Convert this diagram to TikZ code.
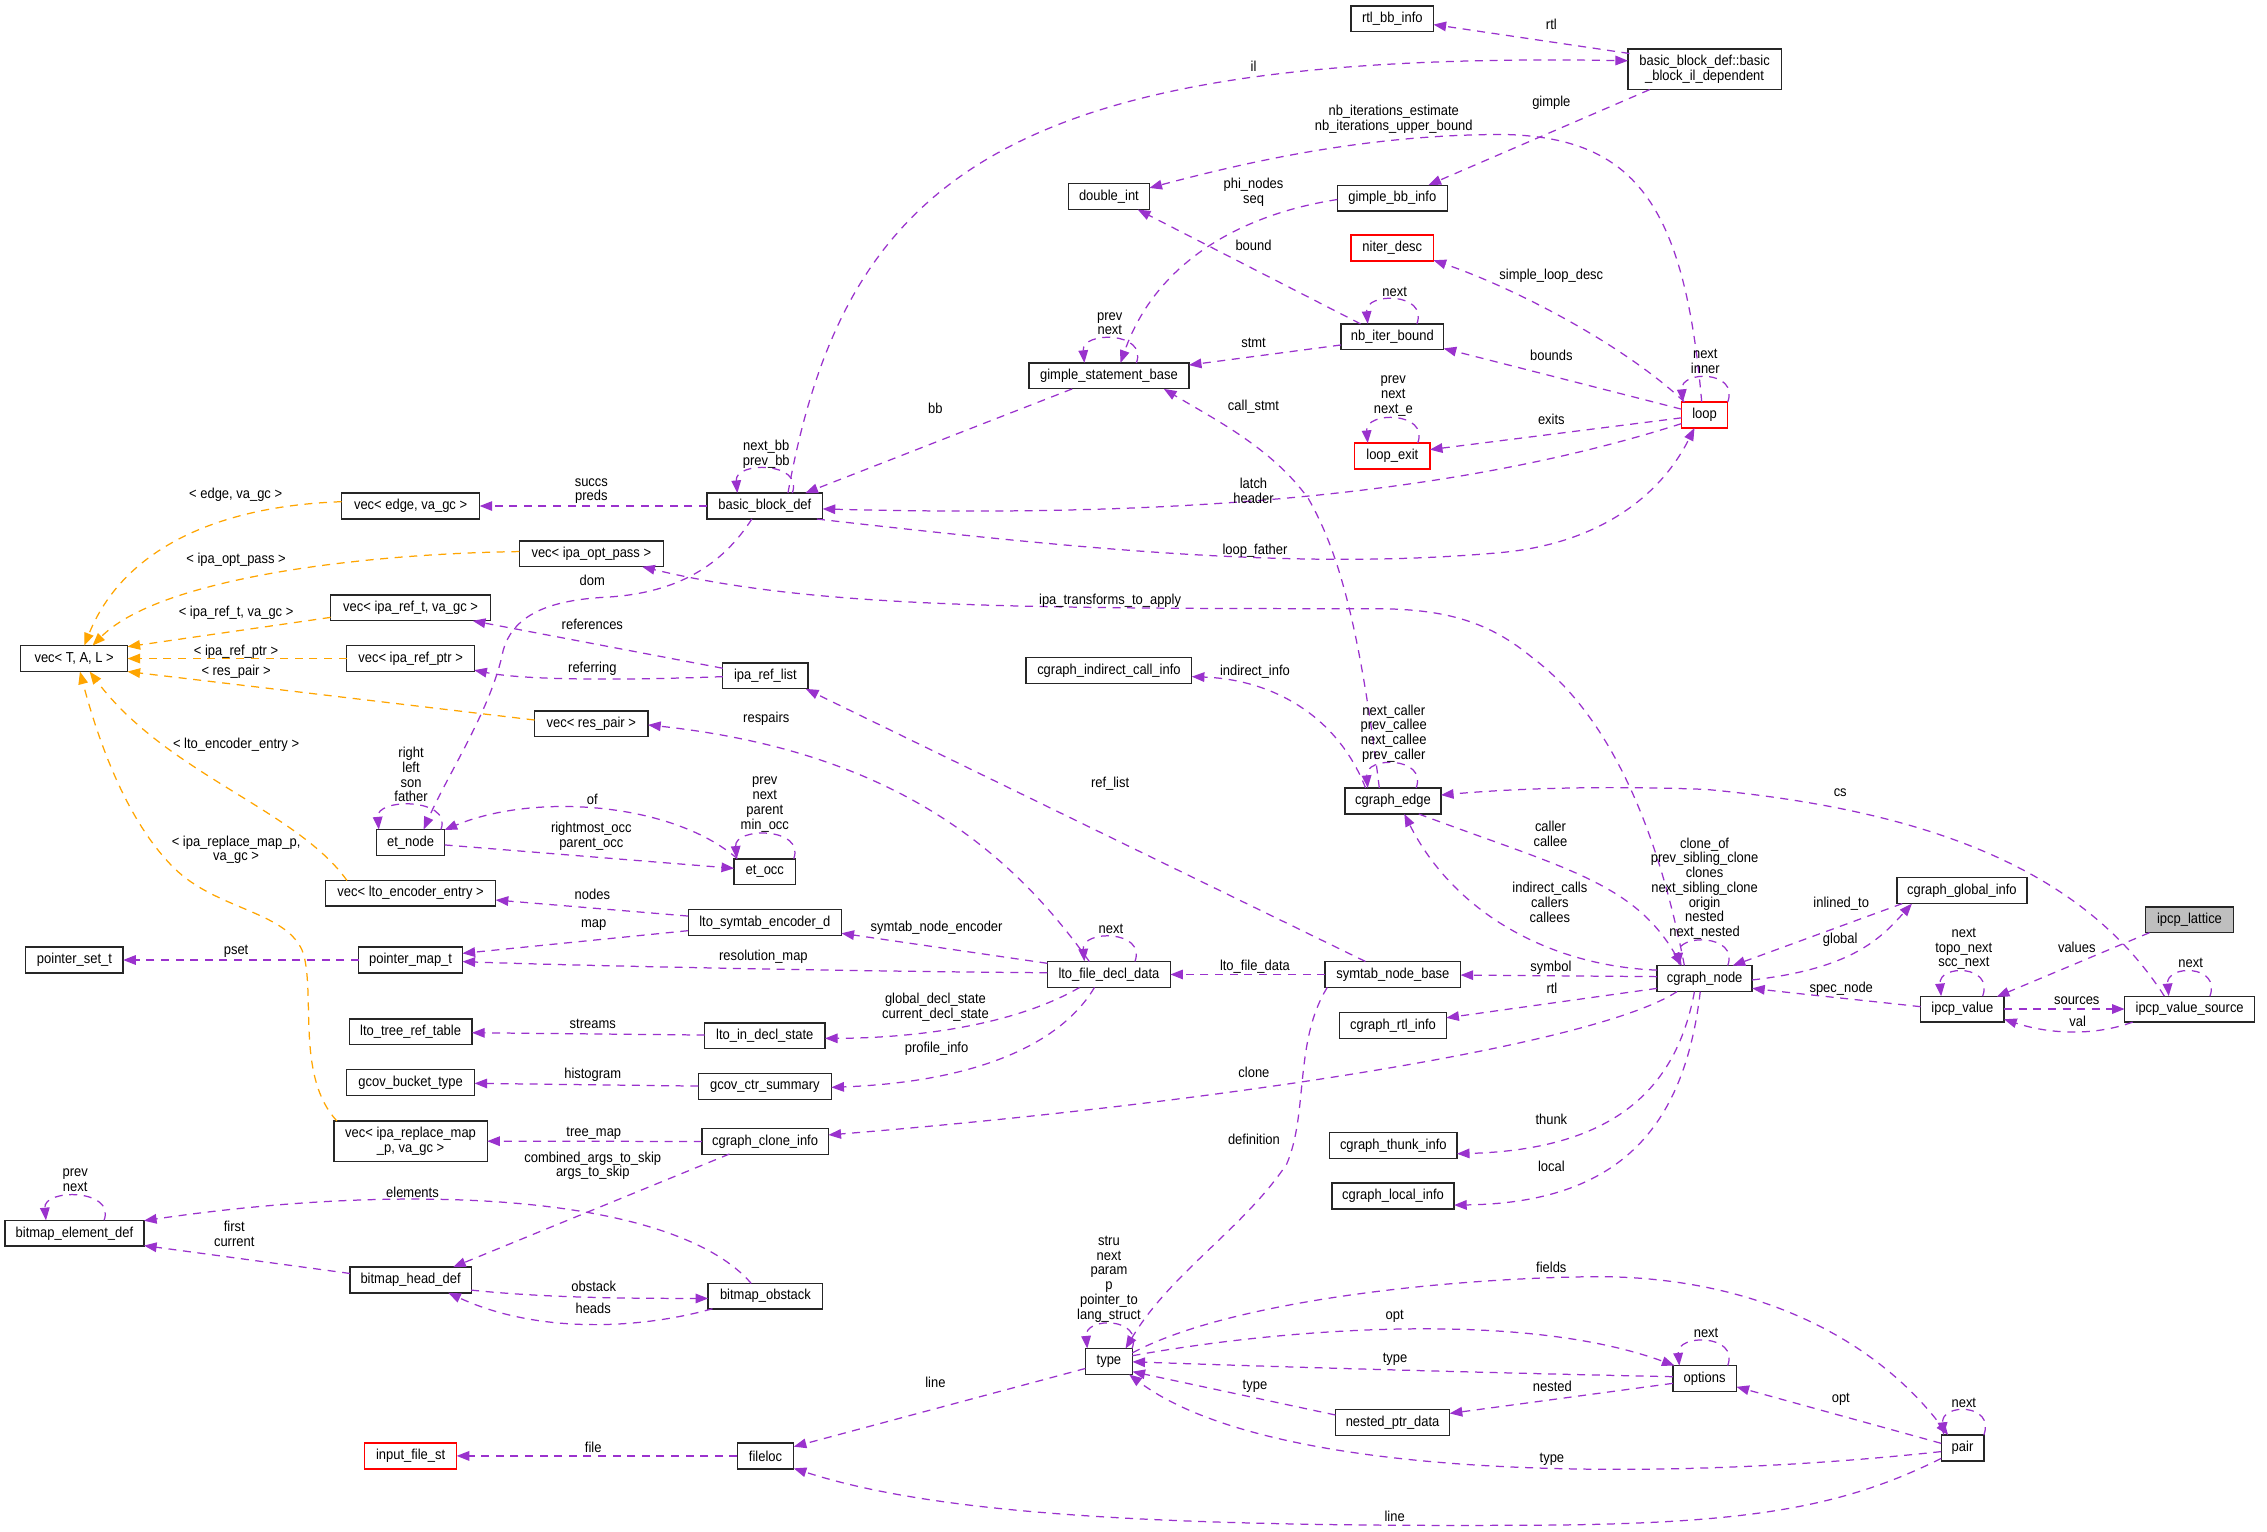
\documentclass[tikz,border=0pt]{standalone}
\usepackage{fontspec}
\setmainfont{Liberation Sans}[FakeStretch=0.9]
\usetikzlibrary{arrows.meta,calc}
\definecolor{edgec}{HTML}{9A32CD}
\definecolor{tmplc}{HTML}{FFA500}
\definecolor{latc}{HTML}{BFBFBF}
\newcommand\selfloop[3]{\draw[rel] ($(#1)+(#2,-9)$) .. controls ($(#1)+(#2+8,-31)$) and ($(#1)+(-#3-2,-31)$) .. ($(#1)+(-#3,-9)$);}
\begin{document}
\begin{tikzpicture}[x=0.7229pt,y=-0.7229pt,
  every node/.style={font=\fontsize{7.2}{7.37}\selectfont},
  cls/.style={draw=black!85, line width=0.7pt, fill=white, minimum height=12.87pt, inner sep=0pt, align=center},
  clsred/.style={cls, draw=red},
  rel/.style={draw=edgec, line width=0.62pt, dash pattern=on 4pt off 3.3pt, -{Triangle[length=6.3pt,width=4.8pt]}},
  tmpl/.style={rel, draw=tmplc},
  lbl/.style={inner sep=0pt, align=center}]
\fill[white] (0,0) rectangle (1568,1059);
\useasboundingbox (0,0) rectangle (1568,1059);

% ---------- nodes ----------
\node[cls, minimum width=41.2pt] (rtlbb) at (963,13) {rtl\_bb\_info};
\node[cls, minimum width=76.6pt, minimum height=20.2pt] (bbil) at (1179,48) {basic\_block\_def::basic\\\_block\_il\_dependent};
\node[cls, minimum width=40.5pt] (dint) at (767,136) {double\_int};
\node[cls, minimum width=54.9pt] (gbbi) at (963,137) {gimple\_bb\_info};
\node[clsred, minimum width=41.2pt] (niter) at (963,171.5) {niter\_desc};
\node[cls, minimum width=51.3pt] (nbib) at (963,233) {nb\_iter\_bound};
\node[cls, minimum width=80pt] (gsb) at (767,260) {gimple\_statement\_base};
\node[clsred, minimum width=23.1pt] (loop) at (1179,287) {loop};
\node[clsred, minimum width=37.6pt] (lexit) at (963,315.4) {loop\_exit};
\node[cls, minimum width=69pt] (vedge) at (284,350) {vec< edge, va\_gc >};
\node[cls, minimum width=57.8pt] (bbd) at (529,350) {basic\_block\_def};
\node[cls, minimum width=72pt] (vopt) at (409,383) {vec< ipa\_opt\_pass >};
\node[cls, minimum width=80pt] (vreft) at (284,420.4) {vec< ipa\_ref\_t, va\_gc >};
\node[cls, minimum width=53.4pt] (vtal) at (51.3,455.5) {vec< T, A, L >};
\node[cls, minimum width=64pt] (vrefp) at (284,455.5) {vec< ipa\_ref\_ptr >};
\node[cls, minimum width=42.7pt] (iprl) at (529.4,467.5) {ipa\_ref\_list};
\node[cls, minimum width=82.8pt] (cici) at (767,463.8) {cgraph\_indirect\_call\_info};
\node[cls, minimum width=56.7pt] (vres) at (409,500.7) {vec< res\_pair >};
\node[cls, minimum width=47.9pt] (cedge) at (963.5,554) {cgraph\_edge};
\node[cls, minimum width=34pt] (etn) at (284,582.7) {et\_node};
\node[cls, minimum width=30.7pt] (eto) at (529,602.9) {et\_occ};
\node[cls, minimum width=85.1pt] (vlto) at (284,617.8) {vec< lto\_encoder\_entry >};
\node[cls, minimum width=65.1pt] (cgi) at (1357,616) {cgraph\_global\_info};
\node[cls, fill=latc, minimum width=43.9pt] (lat) at (1514.4,636.2) {ipcp\_lattice};
\node[cls, minimum width=76.6pt] (lsed) at (529,638) {lto\_symtab\_encoder\_d};
\node[cls, minimum width=48.7pt] (pset) at (51.5,664) {pointer\_set\_t};
\node[cls, minimum width=51.9pt] (pmap) at (284,664) {pointer\_map\_t};
\node[cls, minimum width=61.4pt] (lfdd) at (767,674) {lto\_file\_decl\_data};
\node[cls, minimum width=67.7pt] (snb) at (963.4,674) {symtab\_node\_base};
\node[cls, minimum width=47.5pt] (cgn) at (1179,676.8) {cgraph\_node};
\node[cls, minimum width=41.7pt] (ipv) at (1357.3,698) {ipcp\_value};
\node[cls, minimum width=65.1pt] (ipvs) at (1514.5,698) {ipcp\_value\_source};
\node[cls, minimum width=53.3pt] (crtl) at (963.5,709.2) {cgraph\_rtl\_info};
\node[cls, minimum width=61.4pt] (ltrt) at (284,713.7) {lto\_tree\_ref\_table};
\node[cls, minimum width=60.2pt] (lids) at (529,716.5) {lto\_in\_decl\_state};
\node[cls, minimum width=64pt] (gbt) at (284,748.8) {gcov\_bucket\_type};
\node[cls, minimum width=66.5pt] (gcs) at (529,751.5) {gcov\_ctr\_summary};
\node[cls, minimum width=76.6pt, minimum height=20.2pt] (vrep) at (284,789.3) {vec< ipa\_replace\_map\\\_p, va\_gc >};
\node[cls, minimum width=63.3pt] (cci) at (529.2,789.5) {cgraph\_clone\_info};
\node[cls, minimum width=63.6pt] (cthunk) at (963.7,792.3) {cgraph\_thunk\_info};
\node[cls, minimum width=61.1pt] (clocal) at (963.5,827.2) {cgraph\_local\_info};
\node[cls, minimum width=69.5pt] (bed) at (51.5,853) {bitmap\_element\_def};
\node[cls, minimum width=60.6pt] (bhd) at (284,885.3) {bitmap\_head\_def};
\node[cls, minimum width=57.3pt] (bobs) at (529.4,896.5) {bitmap\_obstack};
\node[cls, minimum width=23.5pt] (type) at (767,941.7) {type};
\node[cls, minimum width=31.8pt] (opts) at (1179,953.5) {options};
\node[cls, minimum width=57.1pt] (npd) at (963.2,983.8) {nested\_ptr\_data};
\node[clsred, minimum width=46pt] (ifs) at (284,1007) {input\_file\_st};
\node[cls, minimum width=28.2pt] (floc) at (529.5,1007) {fileloc};
\node[cls, minimum width=21.3pt] (pair) at (1357.4,1001.5) {pair};

% ---------- edges ----------
\draw[rel] ($(bbd)+(16,-9)$) .. controls (585,120) and (700,35) .. ($(bbil)+(-53,-6)$);
\draw[rel] ($(bbil)+(-52,-11)$) -- ($(rtlbb)+(28.5,4)$);
\draw[rel] ($(bbil)+(-38,14)$) -- ($(gbbi)+(25,-9)$);
\draw[rel] ($(loop)+(-2,-9)$) .. controls (1165,140) and (1130,95) .. (1040,93) .. controls (950,93) and (870,110) .. ($(dint)+(28,-6)$);
\draw[rel] ($(nbib)+(-22,-9)$) -- ($(dint)+(20,9)$);
\draw[rel] ($(gbbi)+(-38,1)$) .. controls (860,148) and (800,180) .. ($(gsb)+(8,-9)$);
\selfloop{gsb}{19}{17}
\selfloop{nbib}{17}{17}
\draw[rel] ($(nbib)+(-35.5,5.6)$) -- ($(gsb)+(55.3,-7.5)$);
\draw[rel] ($(loop)+(-14,-9)$) .. controls (1125,240) and (1050,200) .. ($(niter)+(28.5,8.5)$);
\draw[rel] ($(loop)+(-16,-4)$) -- ($(nbib)+(35.5,8)$);
\selfloop{loop}{16}{15}
\draw[rel] ($(loop)+(-16,2)$) -- ($(lexit)+(26,-4.4)$);
\selfloop{lexit}{17.6}{17}
\draw[rel] ($(loop)+(-16,6)$) .. controls (1000,345) and (800,358) .. ($(bbd)+(40,2)$);
\draw[rel] ($(bbd)+(36,9)$) .. controls (750,380) and (900,395) .. (1040,382) .. controls (1110,375) and (1150,340) .. ($(loop)+(-7,9)$);
\draw[rel] ($(gsb)+(-25.4,9)$) -- ($(bbd)+(28,-9)$);
\selfloop{bbd}{19}{19}
\draw[rel] ($(bbd)+(-40,0)$) -- ($(vedge)+(47.75,0)$);
\draw[rel] ($(cedge)+(-9.5,-9)$) .. controls (940,430) and (925,380) .. (905,345) .. controls (880,310) and (840,290) .. ($(gsb)+(38,9)$);
\draw[rel] ($(bbd)+(-9,9)$) .. controls (500,390) and (470,410) .. (420,413) .. controls (380,415) and (355,425) .. (348,450) .. controls (340,490) and (310,535) .. ($(etn)+(9,-9)$);
\draw[rel] ($(iprl)+(-29.5,-5.3)$) -- ($(vreft)+(43,9)$);
\draw[rel] ($(iprl)+(-29.5,0.5)$) .. controls (420,471) and (360,470) .. ($(vrefp)+(44,8)$);
\draw[tmpl] ($(vedge)+(-47.75,-3)$) .. controls (150,350) and (85,380) .. ($(vtal)+(7,-9)$);
\draw[tmpl] ($(vopt)+(-49.8,-1.5)$) .. controls (250,383) and (110,400) .. ($(vtal)+(12.7,-9)$);
\draw[tmpl] ($(vreft)+(-55.3,6.6)$) -- ($(vtal)+(36.9,-8.2)$);
\draw[tmpl] ($(vrefp)+(-44.25,0)$) -- ($(vtal)+(36.9,0)$);
\draw[tmpl] ($(vres)+(-39.25,-2.7)$) -- ($(vtal)+(36.9,9)$);
\draw[tmpl] ($(vlto)+(-44,-8.8)$) .. controls (205,560) and (115,535) .. ($(vtal)+(10.7,9)$);
\draw[tmpl] ($(vrep)+(-51,-14)$) .. controls (205,745) and (218,690) .. (210,660) .. controls (200,630) and (150,630) .. (120,600) .. controls (90,570) and (70,520) .. ($(vtal)+(4,9)$);
\draw[rel] ($(cgn)+(-14,-9)$) .. controls (1150,590) and (1120,500) .. (1060,455) .. controls (1030,430) and (1000,421) .. (950,421) .. controls (700,421) and (560,420) .. ($(vopt)+(35.2,9)$);
\draw[rel] ($(snb)+(-19,-9)$) -- ($(iprl)+(28,9)$);
\draw[rel] ($(lfdd)+(-13.6,-9)$) .. controls (700,590) and (620,520) .. ($(vres)+(39.25,0.7)$);
\draw[rel] ($(cedge)+(-19,-9)$) .. controls (925,495) and (880,470) .. ($(cici)+(57.3,4.2)$);
\selfloop{cedge}{16}{17.5}
\draw[rel] ($(snb)+(-46.8,0)$) -- ($(lfdd)+(42.5,0)$);
\selfloop{lfdd}{18}{17}
\draw[rel] ($(lfdd)+(-42.5,-7.7)$) -- ($(lsed)+(53,7.5)$);
\draw[rel] ($(lfdd)+(-42.5,-1.2)$) .. controls (600,672) and (400,668) .. ($(pmap)+(35.9,1.1)$);
\draw[rel] ($(lsed)+(-53,5.7)$) -- ($(pmap)+(35.9,-4.6)$);
\draw[rel] ($(lsed)+(-53,-4.4)$) -- ($(vlto)+(58.85,4.7)$);
\draw[rel] ($(pmap)+(-35.9,0)$) -- ($(pset)+(33.7,0)$);
\selfloop{etn}{21}{22}
\draw[rel] ($(eto)+(-19,-9)$) .. controls (465,555) and (370,548) .. ($(etn)+(23.5,-8.7)$);
\draw[rel] ($(etn)+(23.5,1.7)$) -- ($(eto)+(-21.25,-2.3)$);
\selfloop{eto}{20}{19.4}
\draw[rel] ($(lids)+(-41.65,-0.6)$) -- ($(ltrt)+(42.5,0.6)$);
\draw[rel] ($(lfdd)+(-20.3,9)$) .. controls (700,710) and (630,718) .. ($(lids)+(41.65,1.7)$);
\draw[rel] ($(lfdd)+(-10,9)$) .. controls (735,720) and (680,748) .. ($(gcs)+(46,0.6)$);
\draw[rel] ($(gcs)+(-46,-0.3)$) -- ($(gbt)+(44.25,0.5)$);
\draw[rel] ($(cci)+(-43.8,0)$) -- ($(vrep)+(53,0)$);
\draw[rel] ($(cgn)+(-19,9)$) .. controls (1100,725) and (820,765) .. ($(cci)+(43.8,-4.5)$);
\draw[rel] ($(cgn)+(-32.85,-1.3)$) -- ($(snb)+(46.8,0.4)$);
\draw[rel] ($(cgn)+(-32.85,6.8)$) -- ($(crtl)+(36.85,-5.2)$);
\draw[rel] ($(cgn)+(-7,9)$) .. controls (1160,750) and (1120,795) .. ($(cthunk)+(44,5.7)$);
\draw[rel] ($(cgn)+(-3,9)$) .. controls (1165,780) and (1120,832) .. ($(clocal)+(42.25,6.3)$);
\draw[rel] ($(snb)+(-45.4,9)$) .. controls (895,720) and (905,770) .. (890,805) .. controls (860,850) and (810,880) .. ($(type)+(11.5,-9)$);
\selfloop{type}{16}{15}
\draw[rel] ($(type)+(16.25,-6)$) .. controls (850,900) and (1000,884) .. (1104,883) .. controls (1220,883) and (1300,930) .. ($(pair)+(-10,-9)$);
\draw[rel] ($(type)+(16.25,-4)$) .. controls (880,920) and (1050,905) .. ($(opts)+(-20.8,-9)$);
\draw[rel] ($(opts)+(-22,-1.3)$) .. controls (1050,950) and (900,946) .. ($(type)+(16.25,0.2)$);
\draw[rel] ($(opts)+(-22,3.3)$) -- ($(npd)+(39.5,-6.2)$);
\draw[rel] ($(npd)+(-39.5,-5.1)$) -- ($(type)+(16.25,7)$);
\selfloop{opts}{16}{17.5}
\draw[rel] ($(pair)+(-14.75,-3.2)$) -- ($(opts)+(22,5.7)$);
\draw[rel] ($(pair)+(-14.75,2.5)$) .. controls (1150,1025) and (880,1025) .. ($(type)+(14,9)$);
\draw[rel] ($(pair)+(-14.75,7.2)$) .. controls (1270,1045) and (1200,1055) .. (1040,1055) .. controls (780,1056) and (640,1045) .. ($(floc)+(19.5,8.6)$);
\selfloop{pair}{14.75}{13}
\draw[rel] ($(type)+(-16.25,4.8)$) -- ($(floc)+(19.5,-6.4)$);
\draw[rel] ($(floc)+(-19.5,0)$) -- ($(ifs)+(31.85,0)$);
\draw[rel] ($(bhd)+(-41.9,-4.5)$) -- ($(bed)+(48.1,8.5)$);
\draw[rel] ($(bobs)+(-9.8,-8.8)$) .. controls (470,830) and (300,815) .. ($(bed)+(48.1,-8.7)$);
\selfloop{bed}{20.5}{19.7}
\draw[rel] ($(cci)+(-24.7,8.7)$) -- ($(bhd)+(29.4,-8.9)$);
\draw[rel] ($(bhd)+(41.9,7)$) .. controls (380,898) and (440,898) .. ($(bobs)+(-39.6,1.6)$);
\draw[rel] ($(bobs)+(-36.6,8.7)$) .. controls (440,920) and (370,922) .. ($(bhd)+(26,8.8)$);
\draw[rel] ($(cedge)+(17.8,9)$) .. controls (1080,600) and (1130,610) .. ($(cgn)+(-15.8,-8.8)$);
\draw[rel] ($(cgn)+(-32.85,-5.8)$) .. controls (1070,668) and (1005,630) .. ($(cedge)+(7.8,9)$);
\selfloop{cgn}{16}{17.5}
\draw[rel] ($(ipv)+(-28.85,-1.7)$) .. controls (1290,692) and (1250,688) .. ($(cgn)+(32.85,6.8)$);
\draw[rel] ($(cgi)+(-41.3,9)$) -- ($(cgn)+(19.4,-8.9)$);
\draw[rel] ($(cgn)+(32.85,1)$) .. controls (1280,670) and (1300,650) .. ($(cgi)+(-34.6,9)$);
\draw[rel] ($(ipvs)+(-17.5,-9)$) .. controls (1440,600) and (1330,560) .. (1180,546) .. controls (1100,543) and (1040,546) .. ($(cedge)+(33.15,-4.1)$);
\draw[rel] ($(lat)+(-27.7,8.9)$) -- ($(ipv)+(23.8,-8.6)$);
\selfloop{ipv}{14}{14.7}
\draw[rel] ($(ipv)+(28.85,-0.1)$) -- ($(ipvs)+(-45,-0.1)$);
\draw[rel] ($(ipvs)+(-39.5,9)$) .. controls (1450,716) and (1420,716) .. ($(ipv)+(28.85,7)$);
\selfloop{ipvs}{14}{14.5}

% ---------- labels ----------
\node[lbl] (l1) at (867,46) {il};
\node[lbl] (l2) at (1073,17) {rtl};
\node[lbl] (l3) at (1073,71) {gimple};
\node[lbl] (l4) at (964,82.4) {nb\_iterations\_estimate\\nb\_iterations\_upper\_bound};
\node[lbl] (l5) at (867,133) {phi\_nodes\\seq};
\node[lbl] (l6) at (867,169.5) {bound};
\node[lbl] (l7) at (1073,190.7) {simple\_loop\_desc};
\node[lbl] (l8) at (964.6,201.8) {next};
\node[lbl] (l9) at (767.6,223.8) {prev\\next};
\node[lbl] (l10) at (867,237.5) {stmt};
\node[lbl] (l11) at (1073,246) {bounds};
\node[lbl] (l12) at (1179.5,250) {next\\inner};
\node[lbl] (l13) at (963.7,273.8) {prev\\next\\next\_e};
\node[lbl] (l14) at (647,282.5) {bb};
\node[lbl] (l15) at (867,281.3) {call\_stmt};
\node[lbl] (l16) at (1073,290) {exits};
\node[lbl] (l17) at (530,314) {next\_bb\\prev\_bb};
\node[lbl] (l18) at (867,339.5) {latch\\header};
\node[lbl] (l19) at (409,339.6) {succs\\preds};
\node[lbl] (l20) at (163,342) {< edge, va\_gc >};
\node[lbl] (l21) at (868,381) {loop\_father};
\node[lbl] (l22) at (163.3,387.5) {< ipa\_opt\_pass >};
\node[lbl] (l23) at (409.7,401.6) {dom};
\node[lbl] (l24) at (767.8,415.4) {ipa\_transforms\_to\_apply};
\node[lbl] (l25) at (163.3,423.5) {< ipa\_ref\_t, va\_gc >};
\node[lbl] (l26) at (409.7,431.6) {references};
\node[lbl] (l27) at (163.3,450.5) {< ipa\_ref\_ptr >};
\node[lbl] (l28) at (409.7,462.7) {referring};
\node[lbl] (l29) at (163.3,464.3) {< res\_pair >};
\node[lbl] (l30) at (868,464.3) {indirect\_info};
\node[lbl] (l31) at (964,507.4) {next\_caller\\prev\_callee\\next\_callee\\prev\_caller};
\node[lbl] (l32) at (530,497.3) {respairs};
\node[lbl] (l33) at (163.3,515.3) {< lto\_encoder\_entry >};
\node[lbl] (l34) at (284.3,535.8) {right\\left\\son\\father};
\node[lbl] (l35) at (767.8,542) {ref\_list};
\node[lbl] (l36) at (1272.8,548.2) {cs};
\node[lbl] (l37) at (529,556.4) {prev\\next\\parent\\min\_occ};
\node[lbl] (l38) at (409.7,553) {of};
\node[lbl] (l39) at (1072.4,576.6) {caller\\callee};
\node[lbl] (l40) at (409,578.5) {rightmost\_occ\\parent\_occ};
\node[lbl] (l41) at (163.3,587.7) {< ipa\_replace\_map\_p,\\va\_gc >};
\node[lbl] (l42) at (1179,614.6) {clone\_of\\prev\_sibling\_clone\\clones\\next\_sibling\_clone\\origin\\nested\\next\_nested};
\node[lbl] (l43) at (1072,624) {indirect\_calls\\callers\\callees};
\node[lbl] (l44) at (409.7,618.8) {nodes};
\node[lbl] (l45) at (1273.5,625) {inlined\_to};
\node[lbl] (l46) at (410.7,639.8) {map};
\node[lbl] (l47) at (647.8,641.6) {symtab\_node\_encoder};
\node[lbl] (l48) at (768.4,642.6) {next};
\node[lbl] (l49) at (1272.8,650) {global};
\node[lbl] (l50) at (1358.3,656.3) {next\\topo\_next\\scc\_next};
\node[lbl] (l51) at (1436.4,655.5) {values};
\node[lbl] (l52) at (163.3,658.2) {pset};
\node[lbl] (l53) at (528,661.7) {resolution\_map};
\node[lbl] (l54) at (1515.2,666.3) {next};
\node[lbl] (l55) at (868,668.6) {lto\_file\_data};
\node[lbl] (l56) at (1072.7,669.3) {symbol};
\node[lbl] (l57) at (1273.5,683.8) {spec\_node};
\node[lbl] (l58) at (1073.4,683.8) {rtl};
\node[lbl] (l59) at (1436.4,692.4) {sources};
\node[lbl] (l60) at (647,696.6) {global\_decl\_state\\current\_decl\_state};
\node[lbl] (l61) at (1437,706.2) {val};
\node[lbl] (l62) at (410,708) {streams};
\node[lbl] (l63) at (647.8,725.3) {profile\_info};
\node[lbl] (l64) at (867.3,742) {clone};
\node[lbl] (l65) at (410,743.3) {histogram};
\node[lbl] (l66) at (1073,774.2) {thunk};
\node[lbl] (l67) at (410.7,783.7) {tree\_map};
\node[lbl] (l68) at (867.3,788) {definition};
\node[lbl] (l69) at (410,806.4) {combined\_args\_to\_skip\\args\_to\_skip};
\node[lbl] (l70) at (1073,806.7) {local};
\node[lbl] (l71) at (52,816.5) {prev\\next};
\node[lbl] (l72) at (285.3,825) {elements};
\node[lbl] (l73) at (162,853.3) {first\\current};
\node[lbl] (l74) at (1073,876.6) {fields};
\node[lbl] (l75) at (410.7,890) {obstack};
\node[lbl] (l76) at (767,884.7) {stru\\next\\param\\p\\pointer\_to\\lang\_struct};
\node[lbl] (l77) at (410.3,905) {heads};
\node[lbl] (l78) at (964.6,910.3) {opt};
\node[lbl] (l79) at (1180,921.8) {next};
\node[lbl] (l80) at (964.9,940) {type};
\node[lbl] (l81) at (647,956.2) {line};
\node[lbl] (l82) at (868,959.2) {type};
\node[lbl] (l83) at (1073.7,959.2) {nested};
\node[lbl] (l84) at (1273.2,967.7) {opt};
\node[lbl] (l85) at (1358.3,970.2) {next};
\node[lbl] (l86) at (410.3,1001.1) {file};
\node[lbl] (l87) at (1073.4,1009.2) {type};
\node[lbl] (l88) at (964.6,1049) {line};
\end{tikzpicture}
\end{document}
